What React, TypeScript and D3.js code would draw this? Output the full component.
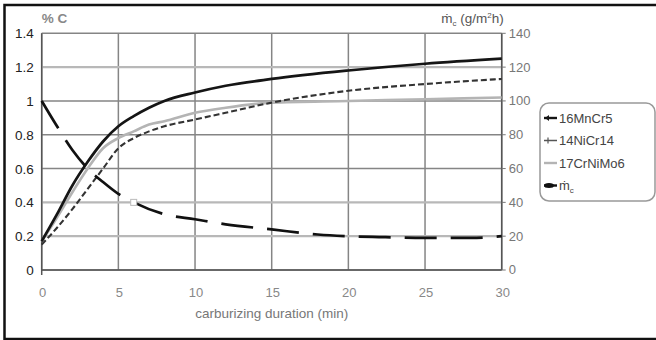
import React, { useMemo } from 'react';
import * as d3 from 'd3';

// carburizing duration (min)
const minutes = [0, 1, 2, 3, 4, 5, 6, 7, 8, 10, 12, 15, 20, 25, 30];
// % C at surface
const mnCr5 = [0.17, 0.33, 0.5, 0.64, 0.76, 0.85, 0.91, 0.96, 1.0, 1.05, 1.09, 1.13, 1.18, 1.22, 1.25];
const niCr14 = [0.15, 0.25, 0.36, 0.48, 0.6, 0.72, 0.78, 0.82, 0.85, 0.89, 0.93, 0.99, 1.06, 1.1, 1.13];
const crNiMo6 = [0.17, 0.31, 0.46, 0.6, 0.72, 0.78, 0.82, 0.86, 0.88, 0.93, 0.96, 0.99, 1.0, 1.01, 1.02];
// carbon mass flow (g/m²h)
const mcMinutes = [0, 1, 2, 3, 4, 5, 6, 8, 10, 12, 15, 18, 20, 22, 25, 28, 30];
const mcValues = [100, 85, 71, 60, 52, 45, 40, 33, 30, 27, 24, 21, 20, 19.5, 19, 19, 20];

const xTicks = [0, 5, 10, 15, 20, 25, 30];
const yTicks = [0, 0.2, 0.4, 0.6, 0.8, 1, 1.2, 1.4];
const y2Ticks = [0, 20, 40, 60, 80, 100, 120, 140];

const legendItems = ['16MnCr5', '14NiCr14', '17CrNiMo6', 'mc'];

const W = 656;
const H = 340;
const font = '"Liberation Sans", Arial, sans-serif';

const App = () => {
  const margin = { top: 33.3, left: 41.7, right: 154.3, bottom: 70 };
  const innerWidth = W - margin.left - margin.right;
  const innerHeight = H - margin.top - margin.bottom;

  const { x, y, y2, paths } = useMemo(() => {
    const x = d3.scaleLinear().domain([0, 30]).range([0, innerWidth]);
    const y = d3.scaleLinear().domain([0, 1.4]).range([innerHeight, 0]);
    const y2 = d3.scaleLinear().domain([0, 140]).range([innerHeight, 0]);

    const line = d3.line<[number, number]>()
      .x(d => x(d[0]))
      .y(d => y(d[1]))
      .curve(d3.curveMonotoneX);
    const line2 = d3.line<[number, number]>()
      .x(d => x(d[0]))
      .y(d => y2(d[1]))
      .curve(d3.curveMonotoneX);

    const zip = (vals: number[], xs = minutes) => xs.map((m, i) => [m, vals[i]] as [number, number]);

    return {
      x, y, y2,
      paths: {
        mnCr5: line(zip(mnCr5)),
        niCr14: line(zip(niCr14)),
        crNiMo6: line(zip(crNiMo6)),
        mc: line2(zip(mcValues, mcMinutes)),
      },
    };
  }, [innerWidth, innerHeight]);

  return (
    <svg
      width={W}
      height={H}
      style={{ position: 'absolute', left: 0, top: 0, fontFamily: font, background: '#fff' }}
    >
      {/* outer frame */}
      <rect x={4.5} y={5} width={720} height={334} fill="none" stroke="#111" strokeWidth={2.5} />

      <g transform={`translate(${margin.left}, ${margin.top})`}>
        {/* grid */}
        {xTicks.map(t => (
          <line key={`gx-${t}`} x1={x(t)} x2={x(t)} y1={0} y2={innerHeight} stroke="#858585" strokeWidth={1.5} />
        ))}
        {yTicks.map(t => (
          <line
            key={`gy-${t}`}
            x1={0}
            x2={innerWidth}
            y1={y(t)}
            y2={y(t)}
            stroke={t === 0.4 || t === 0.2 || t === 1.2 ? '#b8b8b8' : '#858585'}
            strokeWidth={t === 0.4 || t === 0.2 || t === 1.2 ? 2.2 : 1.5}
          />
        ))}

        {/* axes frame */}
        <line x1={0} x2={0} y1={0} y2={innerHeight + 5} stroke="#555" strokeWidth={1.5} />
        <line x1={0} x2={innerWidth} y1={innerHeight} y2={innerHeight} stroke="#555" strokeWidth={1.5} />
        <line x1={innerWidth} x2={innerWidth} y1={0} y2={innerHeight} stroke="#555" strokeWidth={1.5} />
        {y2Ticks.map(t => (
          <line key={`t2-${t}`} x1={innerWidth} x2={innerWidth + 4} y1={y2(t)} y2={y2(t)} stroke="#777" strokeWidth={1} />
        ))}

        {/* series */}
        <path d={paths.crNiMo6 ?? ''} fill="none" stroke="#b4b4b4" strokeWidth={2.6} />
        <path d={paths.niCr14 ?? ''} fill="none" stroke="#333" strokeWidth={2.1} strokeDasharray="6,3" />
        <path d={paths.mnCr5 ?? ''} fill="none" stroke="#151515" strokeWidth={2.7} />
        <path d={paths.mc ?? ''} fill="none" stroke="#111" strokeWidth={2.7} strokeDasharray="32,14" />
        <rect x={x(6) - 3} y={y2(40) - 3} width={6} height={6} fill="#fff" stroke="#bbb" strokeWidth={1} />

        {/* left tick labels */}
        {yTicks.map(t => (
          <text key={`yl-${t}`} x={-8} y={y(t) + 5} textAnchor="end" fill="#222" style={{ fontSize: '13.5px' }}>
            {d3.format('~g')(t)}
          </text>
        ))}
        {/* right tick labels */}
        {y2Ticks.map(t => (
          <text key={`y2l-${t}`} x={innerWidth + 7} y={y2(t) + 4.5} fill="#777" style={{ fontSize: '13px' }}>
            {t}
          </text>
        ))}
        {/* x tick labels */}
        {xTicks.map(t => (
          <text key={`xl-${t}`} x={x(t) + 1} y={innerHeight + 27} textAnchor="middle" fill="#888" style={{ fontSize: '13px' }}>
            {t}
          </text>
        ))}

        {/* axis titles */}
        <text x={innerWidth / 2} y={innerHeight + 48} textAnchor="middle" fill="#777" style={{ fontSize: '13.5px' }}>
          carburizing duration (min)
        </text>
        <text x={0} y={-10} fill="#888" style={{ fontSize: '13.5px', fontWeight: 'bold' }}>
          % C
        </text>
        <text x={innerWidth + 2} y={-10} textAnchor="end" fill="#555" style={{ fontSize: '13.5px' }}>
          ṁ<tspan dy={3} style={{ fontSize: '8px' }}>c</tspan>
          <tspan dy={-3}> (g/m</tspan>
          <tspan dy={-5} style={{ fontSize: '8px' }}>2</tspan>
          <tspan dy={5}>h)</tspan>
        </text>
      </g>

      {/* legend */}
      <g transform="translate(540, 103)">
        <rect x={0} y={0} width={115} height={98} rx={9} fill="#fff" stroke="#999" strokeWidth={1.5} />
        {legendItems.map((name, i) => {
          const ly = 15 + i * 22.5;
          const stroke = i === 0 ? '#151515' : i === 1 ? '#555' : i === 2 ? '#b4b4b4' : '#111';
          return (
            <g key={name} transform={`translate(0, ${ly})`}>
              <line x1={4} x2={17} y1={0} y2={0} stroke={stroke} strokeWidth={i === 1 ? 1.5 : 2.4} />
              {i === 0 && <path d="M5,0 L9,-3 L9,3 Z" fill="#151515" />}
              {i === 1 && <line x1={8} x2={8} y1={-3} y2={3} stroke="#555" strokeWidth={1.2} />}
              {i === 3 && <ellipse cx={9} cy={0} rx={5} ry={2.5} fill="#111" />}
              <text x={19} y={4.5} fill="#444" style={{ fontSize: '13px' }}>
                {name === 'mc' ? (
                  <>
                    ṁ<tspan dy={3} style={{ fontSize: '8px' }}>c</tspan>
                  </>
                ) : name}
              </text>
            </g>
          );
        })}
      </g>
    </svg>
  );
};

export default App;
